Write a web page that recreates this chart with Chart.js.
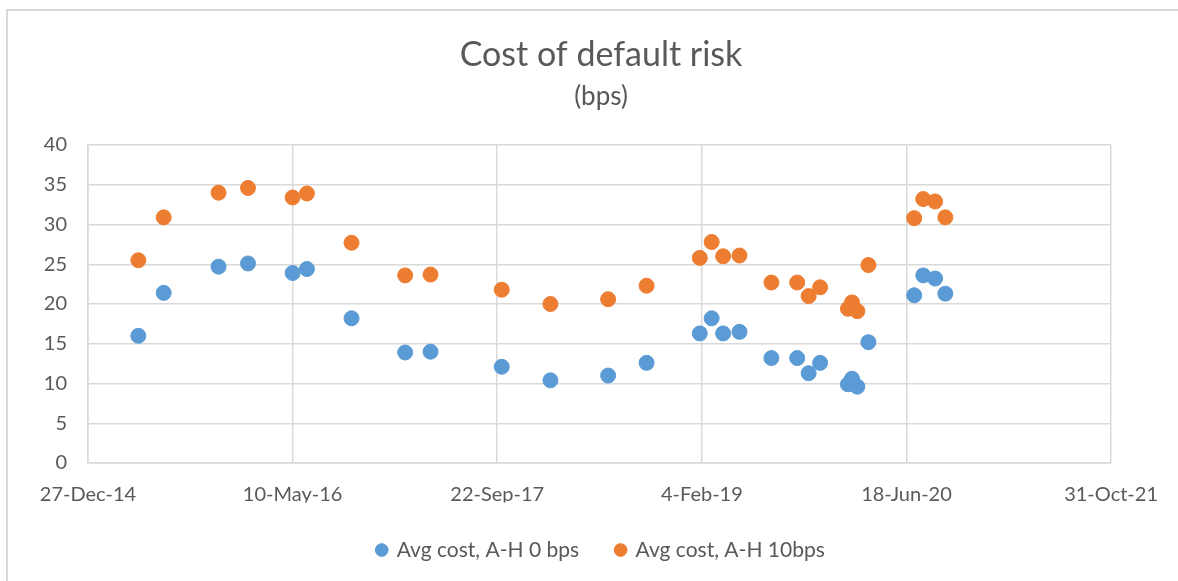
<!DOCTYPE html>
<html>
<head>
<meta charset="utf-8">
<title>Cost of default risk</title>
<script src="https://cdn.jsdelivr.net/npm/chart.js"></script>
<style>
  html, body { margin: 0; padding: 0; background: #fff; overflow: hidden; }
  .frame {
    position: absolute; left: 6px; top: 9px;
    width: 1200px; height: 600px;
    border: 2px solid #D9D9D9;
  }
  .chart-wrapper { position: absolute; left: 0; top: 0; width: 1178px; height: 581px; }
</style>
</head>
<body>
<div class="frame"></div>
<div class="chart-wrapper"><canvas id="costChart"></canvas></div>
<script>
// Observation dates (shared by both series)
const dates = [
  '2015-04-29', '2015-06-30', '2015-11-11', '2016-01-22', '2016-05-10',
  '2016-06-14', '2016-10-01', '2017-02-09', '2017-04-12', '2017-10-03',
  '2018-01-30', '2018-06-20', '2018-09-22', '2019-01-30', '2019-02-28',
  '2019-03-28', '2019-05-07', '2019-07-24', '2019-09-25', '2019-10-23',
  '2019-11-20', '2020-01-27', '2020-02-06', '2020-02-19', '2020-03-17',
  '2020-07-07', '2020-07-29', '2020-08-27', '2020-09-21'
];

// Avg cost, A-H 0 bps
const avgCost0bps = [
  16.0, 21.4, 24.7, 25.1, 23.9, 24.4, 18.2, 13.9, 14.0, 12.1,
  10.4, 11.0, 12.6, 16.3, 18.2, 16.3, 16.5, 13.2, 13.2, 11.3,
  12.6, 9.9, 10.6, 9.6, 15.2, 21.1, 23.6, 23.2, 21.3
];

// Avg cost, A-H 10bps
const avgCost10bps = [
  25.5, 30.9, 34.0, 34.6, 33.4, 33.9, 27.7, 23.6, 23.7, 21.8,
  20.0, 20.6, 22.3, 25.8, 27.8, 26.0, 26.1, 22.7, 22.7, 21.0,
  22.1, 19.4, 20.2, 19.1, 24.9, 30.8, 33.2, 32.9, 30.9
];

const seriesNames = ['Avg cost, A-H 0 bps', 'Avg cost, A-H 10bps'];
const xAxisStart = '2014-12-27';
const xAxisEnd = '2021-10-31';
const xTickLabels = ['27-Dec-14', '10-May-16', '22-Sep-17', '4-Feb-19', '18-Jun-20', '31-Oct-21'];
const yTickMin = 0, yTickMax = 40, yTickStep = 5;

// Excel-style day serial so the 500-day tick spacing lines up
const toSerial = d => (Date.parse(d) - Date.UTC(1899, 11, 30)) / 86400000;

const textColor = '#595959';
const gridColor = '#D9D9D9';

Chart.defaults.font.family = 'Lato, "Open Sans", sans-serif';
Chart.defaults.color = textColor;

const toPoints = values => values.map((v, i) => ({ x: toSerial(dates[i]), y: v }));

const ctx = document.getElementById('costChart').getContext('2d');
new Chart(ctx, {
  type: 'scatter',
  data: {
    datasets: [
      {
        label: seriesNames[0],
        data: toPoints(avgCost0bps),
        backgroundColor: '#5B9BD5',
        borderColor: '#5B9BD5',
        borderWidth: 1,
        pointRadius: 7.5,
        pointHoverRadius: 7.5
      },
      {
        label: seriesNames[1],
        data: toPoints(avgCost10bps),
        backgroundColor: '#ED7D31',
        borderColor: '#ED7D31',
        borderWidth: 1,
        pointRadius: 7.5,
        pointHoverRadius: 7.5
      }
    ]
  },
  options: {
    responsive: true,
    maintainAspectRatio: false,
    animation: false,
    layout: { padding: { left: 24, right: 0, top: 34.6, bottom: 10.5 } },
    plugins: {
      title: {
        display: true,
        text: 'Cost of default risk',
        color: textColor,
        font: { size: 34, weight: 'normal' },
        padding: { top: 0, bottom: 6 }
      },
      subtitle: {
        display: true,
        text: '(bps)',
        color: textColor,
        font: { size: 26, weight: 'normal' },
        padding: { top: 0, bottom: 32.4 }
      },
      legend: {
        position: 'bottom',
        labels: {
          usePointStyle: true,
          pointStyle: 'circle',
          boxWidth: 9,
          boxHeight: 9,
          padding: 37,
          color: textColor,
          font: { size: 21 }
        }
      },
      tooltip: { enabled: false }
    },
    scales: {
      x: {
        type: 'linear',
        min: toSerial(xAxisStart),
        max: toSerial(xAxisEnd),
        ticks: {
          stepSize: 500,
          autoSkip: false,
          maxRotation: 0,
          padding: 20,
          color: textColor,
          font: { size: 20 },
          callback: (value, index) => xTickLabels[index]
        },
        grid: { color: gridColor, lineWidth: 1.5, drawTicks: false },
        border: { color: gridColor, width: 1.5 },
        afterFit: scale => { scale.height = 39.5; }
      },
      y: {
        min: yTickMin,
        max: yTickMax,
        ticks: {
          stepSize: yTickStep,
          padding: 21,
          color: textColor,
          font: { size: 20 }
        },
        grid: { color: gridColor, lineWidth: 1.5, drawTicks: false },
        border: { color: gridColor, width: 1.5 },
        afterFit: scale => { scale.width = 64; }
      },
      // empty right-hand gutter so title/legend centre over the plot like the original
      gutter: {
        type: 'linear',
        position: 'right',
        display: true,
        ticks: { display: false },
        grid: { display: false, drawTicks: false },
        border: { display: false },
        afterFit: scale => { scale.width = 63; }
      }
    }
  }
});
</script>
</body>
</html>
